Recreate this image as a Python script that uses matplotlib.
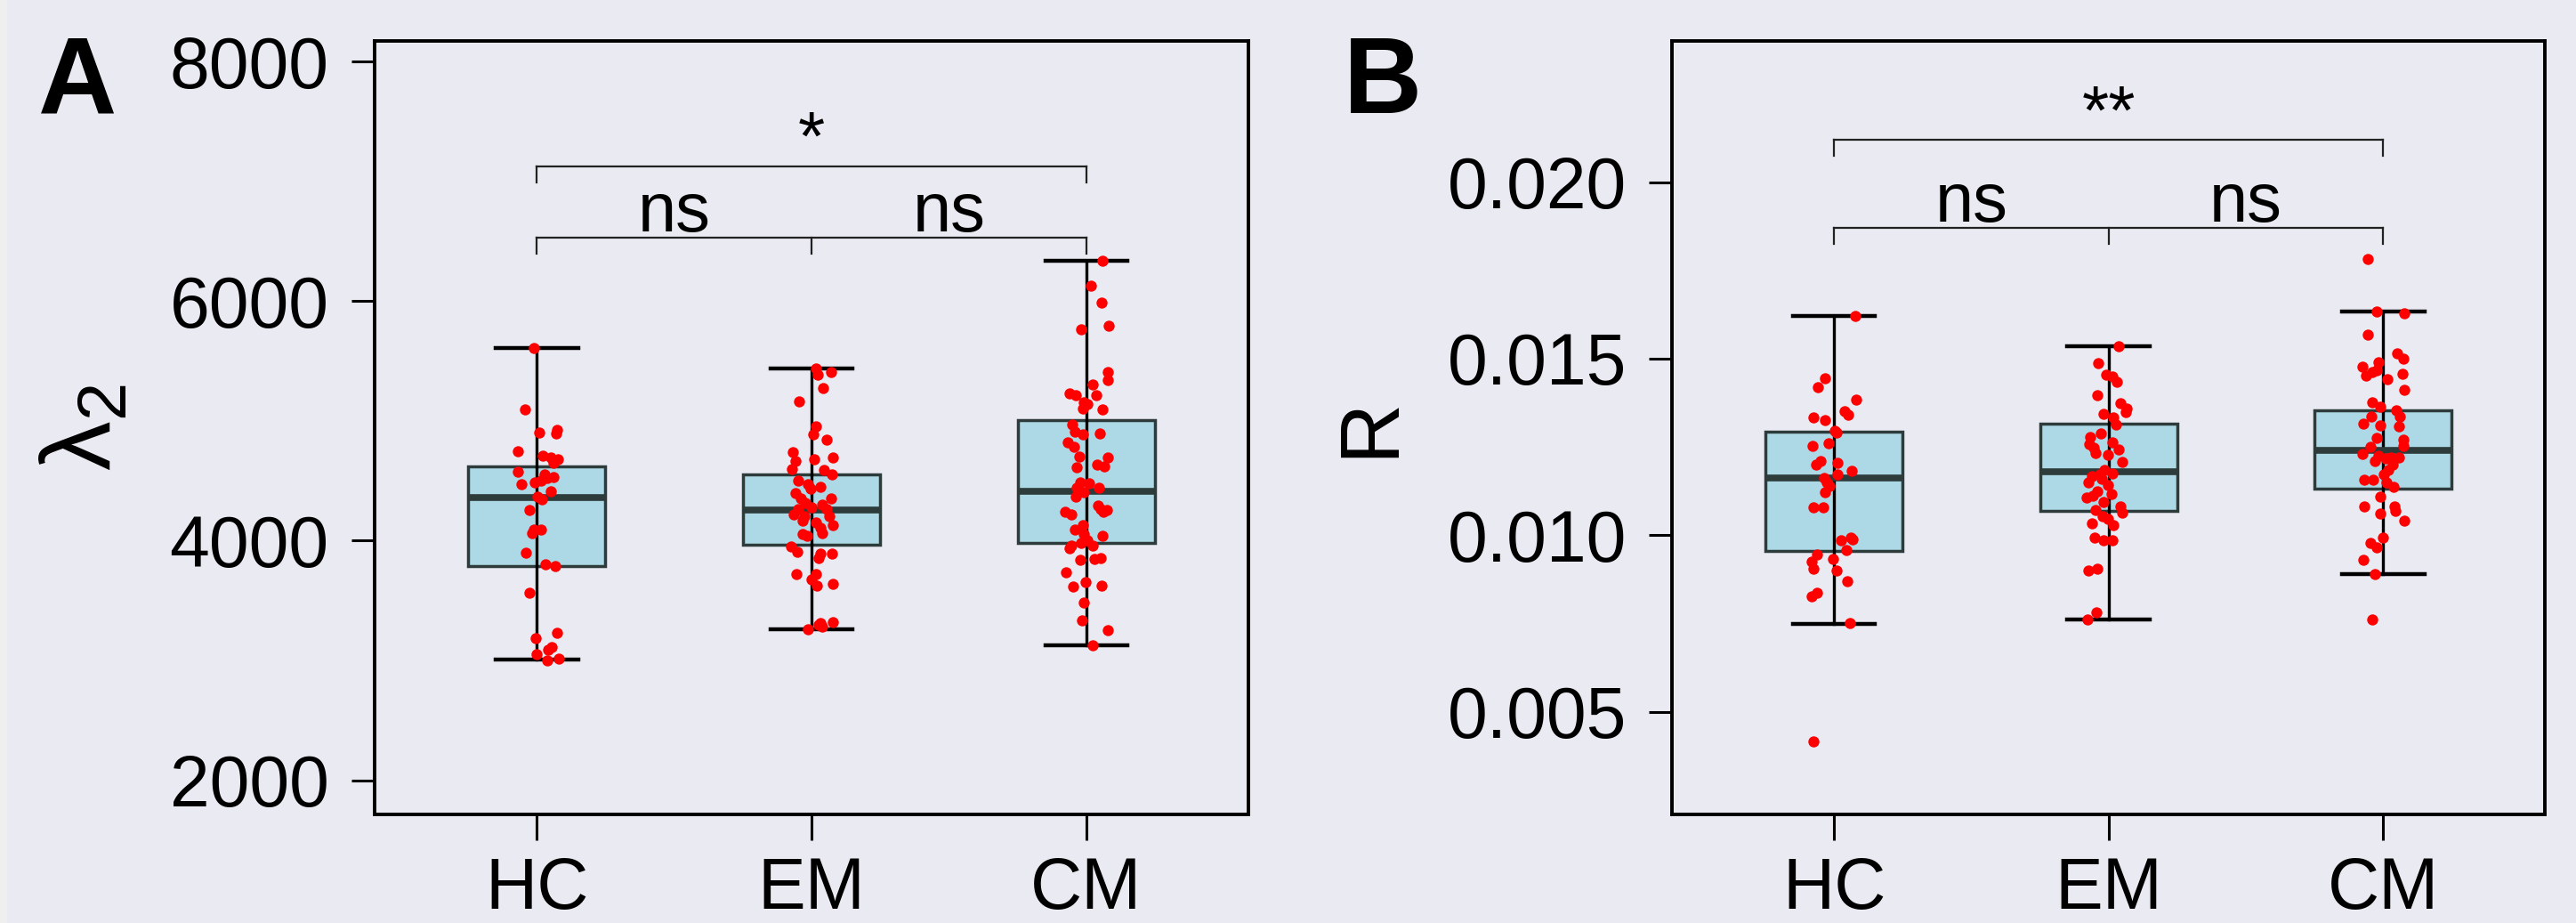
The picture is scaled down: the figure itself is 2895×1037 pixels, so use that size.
import matplotlib
matplotlib.use('Agg')
import matplotlib.pyplot as plt
from matplotlib.patches import Rectangle
import numpy as np

plt.rcParams['font.family'] = ['Liberation Sans', 'DejaVu Sans']
plt.rcParams['mathtext.fontset'] = 'custom'
plt.rcParams['mathtext.rm'] = 'Liberation Sans'
plt.rcParams['mathtext.it'] = 'Liberation Sans:italic'
plt.rcParams['mathtext.bf'] = 'Liberation Sans:bold'

groups = ['HC', 'EM', 'CM']

# ---------------- Panel A : lambda_2 ----------------
a_hc = [5611, 5096, 4903, 4928, 4893, 4749, 4712, 4695, 4680, 4650,
        4576, 4551, 4532, 4527, 4470, 4489, 4502, 4410, 4366, 4346,
        4254, 4091, 4091, 4061, 3900, 3804, 3789, 3566, 3234, 3185,
        3115, 3086, 3051, 3004, 3016]
a_em = [5438, 5388, 5405, 5274, 5165, 4952, 4886, 4843, 4737, 4663,
        4683, 4695, 4596, 4589, 4551, 4502, 4472, 4433, 4452, 4398,
        4353, 4353, 4316, 4279, 4304, 4267, 4267, 4217, 4205, 4205,
        4168, 4155, 4131, 4106, 4056, 4044, 4061, 3952, 3908, 3895,
        3895, 3853, 3722, 3722, 3673, 3623, 3640, 3314, 3323, 3257,
        3281, 3301]
a_cm = [6339, 6128, 5987, 5765, 5797, 5406, 5339, 5302, 5227, 5215,
        5215, 5158, 5141, 5101, 5096, 4972, 4910, 4886, 4898, 4824,
        4787, 4700, 4613, 4638, 4695, 4621, 4490, 4477, 4440, 4440,
        4403, 4366, 4291, 4267, 4242, 4259, 4242, 4217, 4131, 4093,
        4056, 4044, 4007, 3957, 3982, 3962, 3933, 3838, 3846, 3853,
        3739, 3655, 3616, 3628, 3482, 3338, 3252, 3128]
# box statistics (HC, EM, CM)
a_whislo = [3009, 3259, 3128]
a_q1 = [3789, 3967, 3982]
a_med = [4361, 4254, 4415]
a_q3 = [4618, 4556, 5004]
a_whishi = [5611, 5435, 6339]

# ---------------- Panel B : R ----------------
b_hc = [0.01622, 0.01445, 0.01420, 0.01384, 0.01350, 0.01342, 0.01334, 0.01327, 0.01297, 0.01291,
        0.01253, 0.01261, 0.01205, 0.01200, 0.01209, 0.01182, 0.01171, 0.01162, 0.01150, 0.01140,
        0.01123, 0.01078, 0.01078, 0.00986, 0.00994, 0.00988, 0.00959, 0.00946, 0.00924, 0.00932,
        0.00905, 0.00899, 0.00870, 0.00838, 0.00828, 0.00750, 0.00417]
b_em = [0.01536, 0.01487, 0.01455, 0.01449, 0.01435, 0.01396, 0.01373, 0.01359, 0.01348, 0.01344,
        0.01334, 0.01314, 0.01289, 0.01278, 0.01259, 0.01264, 0.01247, 0.01244, 0.01232, 0.01227,
        0.01207, 0.01185, 0.01175, 0.01167, 0.01171, 0.01150, 0.01160, 0.01141, 0.01125, 0.01118,
        0.01106, 0.01112, 0.01095, 0.01082, 0.01072, 0.01064, 0.01053, 0.01047, 0.01028, 0.01034,
        0.00994, 0.00986, 0.00986, 0.00901, 0.00904, 0.00781, 0.00762]
b_cm = [0.01782, 0.01633, 0.01628, 0.01567, 0.01516, 0.01500, 0.01491, 0.01477, 0.01463, 0.01453,
        0.01468, 0.01457, 0.01443, 0.01411, 0.01376, 0.01365, 0.01354, 0.01337, 0.01335, 0.01317,
        0.01310, 0.01308, 0.01276, 0.01270, 0.01251, 0.01253, 0.01230, 0.01226, 0.01217, 0.01219,
        0.01221, 0.01211, 0.01199, 0.01184, 0.01171, 0.01158, 0.01157, 0.01150, 0.01137, 0.01108,
        0.01082, 0.01082, 0.01070, 0.01061, 0.01042, 0.00994, 0.00977, 0.00966, 0.00929, 0.00889,
        0.00761]
b_whislo = [0.007495, 0.007622, 0.008886]
b_q1 = [0.009543, 0.010698, 0.011330]
b_med = [0.011624, 0.011802, 0.012408]
b_q3 = [0.012931, 0.013167, 0.013538]
b_whishi = [0.016217, 0.015358, 0.016344]

# horizontal strip jitter (category units)
a_hc_jit = [-0.011, -0.042, 0.009, 0.073, 0.070, -0.068, 0.023, 0.051, 0.076, 0.060,
            -0.070, 0.027, 0.060, 0.038, -0.057, -0.008, 0.016, 0.051, 0.003, 0.018,
            -0.027, -0.011, 0.016, -0.018, -0.038, 0.032, 0.068, -0.027, 0.074, -0.005,
            0.054, 0.043, 0.000, 0.038, 0.081]
a_em_jit = [0.016, 0.022, 0.070, 0.041, -0.045, 0.016, 0.005, 0.054, -0.067, -0.060,
            0.009, 0.078, -0.070, 0.045, 0.074, -0.049, -0.013, -0.005, 0.032, -0.060,
            -0.038, 0.070, -0.022, 0.000, 0.038, -0.049, 0.054, -0.065, -0.027, 0.065,
            -0.032, 0.016, 0.076, 0.032, -0.032, -0.016, 0.038, -0.076, -0.052, 0.032,
            0.074, 0.027, -0.054, 0.016, 0.000, 0.019, 0.078, 0.032, 0.076, -0.013,
            0.038, 0.027]
a_cm_jit = [0.057, 0.017, 0.055, -0.018, 0.081, 0.079, 0.077, 0.023, -0.060, -0.038,
            0.036, -0.008, 0.003, -0.013, 0.057, -0.053, -0.042, -0.013, 0.049, -0.067,
            -0.045, -0.027, -0.035, 0.038, 0.077, 0.066, -0.024, 0.009, -0.035, 0.047,
            -0.008, -0.038, 0.041, 0.052, 0.063, 0.074, -0.078, -0.056, -0.013, -0.042,
            -0.008, 0.057, 0.003, -0.056, -0.018, 0.023, -0.062, -0.024, 0.030, 0.052,
            -0.075, -0.002, -0.049, 0.055, -0.010, -0.015, 0.079, 0.023]
b_hc_jit = [0.078, -0.032, -0.060, 0.080, 0.037, 0.051, -0.076, -0.032, 0.002, 0.008,
            -0.079, -0.019, 0.011, -0.065, -0.050, 0.065, 0.013, -0.036, -0.025, -0.017,
            -0.032, -0.076, -0.041, 0.024, 0.062, 0.069, 0.045, -0.061, -0.082, -0.003,
            -0.074, 0.008, 0.048, -0.061, -0.081, 0.058, -0.076]
b_em_jit = [0.035, -0.038, -0.009, 0.013, 0.031, -0.041, 0.042, 0.067, 0.062, -0.019,
            0.018, 0.027, -0.027, -0.066, -0.070, 0.013, -0.055, 0.038, -0.047, -0.003,
            0.051, -0.014, 0.013, -0.060, -0.030, -0.074, -0.025, -0.003, -0.041, 0.010,
            -0.079, -0.057, -0.019, 0.042, -0.047, 0.051, -0.023, -0.001, 0.018, -0.060,
            -0.052, -0.019, 0.013, -0.074, -0.041, -0.044, -0.077]
b_cm_jit = [-0.057, -0.025, 0.078, -0.057, 0.051, 0.073, -0.017, -0.074, -0.041, -0.061,
            -0.022, 0.069, 0.016, 0.078, -0.039, -0.011, 0.048, 0.062, -0.043, -0.071,
            -0.009, 0.058, -0.022, 0.073, -0.047, 0.073, -0.074, -0.017, 0.008, 0.029,
            0.056, -0.030, 0.035, 0.018, 0.002, -0.068, -0.036, 0.013, 0.037, -0.011,
            -0.068, 0.040, 0.045, -0.009, 0.078, 0.000, -0.047, -0.022, -0.071, -0.030,
            -0.041]

a_yticks = [2000, 4000, 6000, 8000]
b_yticks = [0.005, 0.010, 0.015, 0.020]

BG = '#EAEAF2'
BOX_FILL = '#ADD8E6'
BOX_EDGE = '#2E3B3B'

fig = plt.figure(figsize=(28.95, 10.37), dpi=100, facecolor=BG)
fig.patches.append(Rectangle((0, 0), 8 / 2895, 1, transform=fig.transFigure,
                             facecolor='#EFEFEF', edgecolor='none', zorder=-1))

axA = fig.add_axes([0.1454, 0.118, 0.3393, 0.8376])
axB = fig.add_axes([0.6491, 0.118, 0.3389, 0.8376])


def draw_panel(ax, data, jits, whislo, q1, med, q3, whishi, ylim, yticks, yfmt,
               ylabel, label_size, label_x, brackets):
    pos = np.arange(len(groups))
    stats = []
    for i in range(len(groups)):
        stats.append(dict(whislo=whislo[i], q1=q1[i], med=med[i], q3=q3[i],
                          whishi=whishi[i], fliers=[]))
    ax.bxp(stats, positions=pos, widths=0.5, capwidths=0.3, patch_artist=True,
           showfliers=False, manage_ticks=False,
           boxprops=dict(facecolor=BOX_FILL, edgecolor=BOX_EDGE, linewidth=2.5, zorder=2),
           medianprops=dict(color=BOX_EDGE, linewidth=5.5, zorder=2.6, solid_capstyle='butt'),
           whiskerprops=dict(color='black', linewidth=2.4, zorder=2.4),
           capprops=dict(color='black', linewidth=3.2, zorder=2.4))
    # whisker line continues through the box
    ax.vlines(pos, q1, q3, color='black', linewidth=2.4, zorder=2.4)
    for i, (vals, jit) in enumerate(zip(data, jits)):
        ax.scatter(pos[i] + np.array(jit), vals, s=80, color='#FF0000',
                   linewidths=0, zorder=4)

    ax.set_xlim(-0.59, 2.59)
    ax.set_ylim(*ylim)
    ax.set_xticks(pos)
    ax.set_xticklabels(groups)
    ax.set_yticks(yticks)
    ax.set_yticklabels([yfmt.format(t) for t in yticks])
    ax.set_facecolor(BG)
    for sp in ax.spines.values():
        sp.set_color('black')
        sp.set_linewidth(2.8)
    ax.tick_params(axis='y', length=19, width=2.2, pad=18, labelsize=58, color='black')
    ax.tick_params(axis='x', length=21, width=2.2, pad=13, labelsize=58, color='black')
    ax.set_ylabel(ylabel, fontsize=label_size, va='center')
    ax.yaxis.set_label_coords(label_x, 0.5)

    span = ylim[1] - ylim[0]
    h = 0.021 * span
    for (x1, x2, y, txt, mids) in brackets:
        ax.plot([x1, x2], [y, y], color='#222222', linewidth=1.6, zorder=3)
        for xm in mids:
            ax.plot([xm, xm], [y, y - h], color='#222222', linewidth=1.6, zorder=3)
        for (xt, t) in txt:
            ax.annotate(t, xy=(xt, y), xytext=(0, 5), textcoords='offset points',
                        ha='center', va='baseline', fontsize=56)


draw_panel(axA, [a_hc, a_em, a_cm], [a_hc_jit, a_em_jit, a_cm_jit],
           a_whislo, a_q1, a_med, a_q3, a_whishi, (1718, 8171), a_yticks, '{:.0f}',
           'λ$_\\mathregular{2}$', 80, -0.33,
           [(0, 2, 6528, [(0.5, 'ns'), (1.5, 'ns')], [0, 1, 2]),
            (0, 2, 7127, [(1.0, '*')], [0, 2])])
draw_panel(axB, [b_hc, b_em, b_cm], [b_hc_jit, b_em_jit, b_cm_jit],
           b_whislo, b_q1, b_med, b_q3, b_whishi, (0.0021, 0.0240), b_yticks, '{:.3f}',
           'R', 68, -0.345,
           [(0, 2, 0.01871, [(0.5, 'ns'), (1.5, 'ns')], [0, 1, 2]),
            (0, 2, 0.0212, [(1.0, '**')], [0, 2])])

fig.text(0.0149, 0.8775, 'A', fontsize=88, fontweight='bold', ha='left', va='baseline')
fig.text(0.5216, 0.8775, 'B', fontsize=88, fontweight='bold', ha='left', va='baseline')

fig.savefig('out.png', dpi=100, facecolor=BG)
